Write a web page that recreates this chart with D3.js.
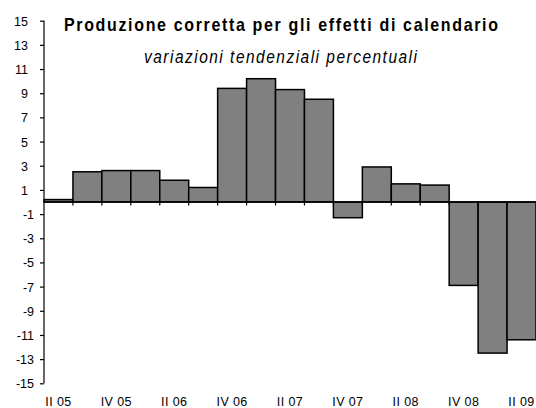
<!DOCTYPE html>
<html>
<head>
<meta charset="utf-8">
<script src="https://cdn.jsdelivr.net/npm/d3@7"></script>
<style>
  html, body { margin: 0; padding: 0; background: #fff; }
  svg { display: block; }
  text { font-family: "Liberation Sans", Arial, sans-serif; fill: #000; }
</style>
</head>
<body>
<svg id="chart" width="536" height="408"></svg>
<script>
const categories = ["II 05","III 05","IV 05","I 06","II 06","III 06","IV 06","I 07","II 07","III 07","IV 07","I 08","II 08","III 08","IV 08","I 09","II 09"];
const values = [0.2, 2.5, 2.6, 2.6, 1.8, 1.2, 9.4, 10.2, 9.3, 8.5, -1.3, 2.9, 1.5, 1.4, -6.9, -12.5, -11.4];
const yTicks = [-15,-13,-11,-9,-7,-5,-3,-1,1,3,5,7,9,11,13,15];
const xTickLabels = ["II 05","IV 05","II 06","IV 06","II 07","IV 07","II 08","IV 08","II 09"];
const title = "Produzione corretta per gli effetti di calendario";
const subtitle = "variazioni tendenziali percentuali";

const svg = d3.select("#chart");
const x = d3.scaleBand().domain(categories).range([44, 536]).padding(0);
const y = d3.scaleLinear().domain([-15, 15]).range([383.3, 20.7]);

// bars
svg.append("g").selectAll("rect").data(values).join("rect")
  .attr("x", (d, i) => x(categories[i]))
  .attr("width", x.bandwidth())
  .attr("y", d => y(Math.max(0, d)))
  .attr("height", d => Math.abs(y(d) - y(0)))
  .attr("fill", "#808080")
  .attr("stroke", "#000")
  .attr("stroke-width", 1.5);

// y axis
const yAxis = d3.axisLeft(y).tickValues(yTicks).tickSize(4).tickFormat(d => d);
const gy = svg.append("g").attr("transform", "translate(44,0)").call(yAxis);
gy.select(".domain").attr("stroke", "#000").attr("stroke-width", 1.2).attr("d", `M0,${y(-15)}V${y(15)}`);
gy.selectAll(".tick line").attr("stroke", "#000").attr("stroke-width", 1.2);
gy.selectAll(".tick text")
  .attr("x", d => d < 0 ? -10 : -16)
  .attr("dy", "0.36em")
  .style("font-size", "12.5px")
  .style("font-family", "'Liberation Sans', Arial, sans-serif");

// x axis at zero
const xAxis = d3.axisBottom(x).tickSize(0).tickFormat("");
const gx = svg.append("g").attr("transform", `translate(0,${y(0)})`).call(xAxis);
gx.select(".domain").attr("stroke", "#000").attr("stroke-width", 1.5).attr("d", `M44,0H536`);
gx.selectAll(".tick").remove();
// boundary ticks
const bounds = categories.slice(1).map(c => x(c));
gx.selectAll("line.b").data(bounds).join("line").attr("class", "b")
  .attr("x1", d => d).attr("x2", d => d).attr("y1", 0).attr("y2", 3.5)
  .attr("stroke", "#000").attr("stroke-width", 1.2);

// x labels at the bottom
svg.append("g").selectAll("text").data(xTickLabels).join("text")
  .attr("x", d => x(d) + x.bandwidth() / 2)
  .attr("y", 406)
  .attr("text-anchor", "middle")
  .style("font-size", "12.5px")
  .style("letter-spacing", "0.4px")
  .text(d => d);

// titles (vertically stretched like the original)
svg.append("text")
  .attr("transform", "translate(64,31) scale(1,1.2)")
  .attr("textLength", 434).attr("lengthAdjust", "spacing")
  .style("font-weight", "bold").style("font-size", "16px")
  .text(title);

svg.append("text")
  .attr("transform", "translate(144,63) scale(1,1.2)")
  .attr("textLength", 273).attr("lengthAdjust", "spacing")
  .style("font-style", "italic").style("font-size", "15.5px")
  .text(subtitle);
</script>
</body>
</html>
